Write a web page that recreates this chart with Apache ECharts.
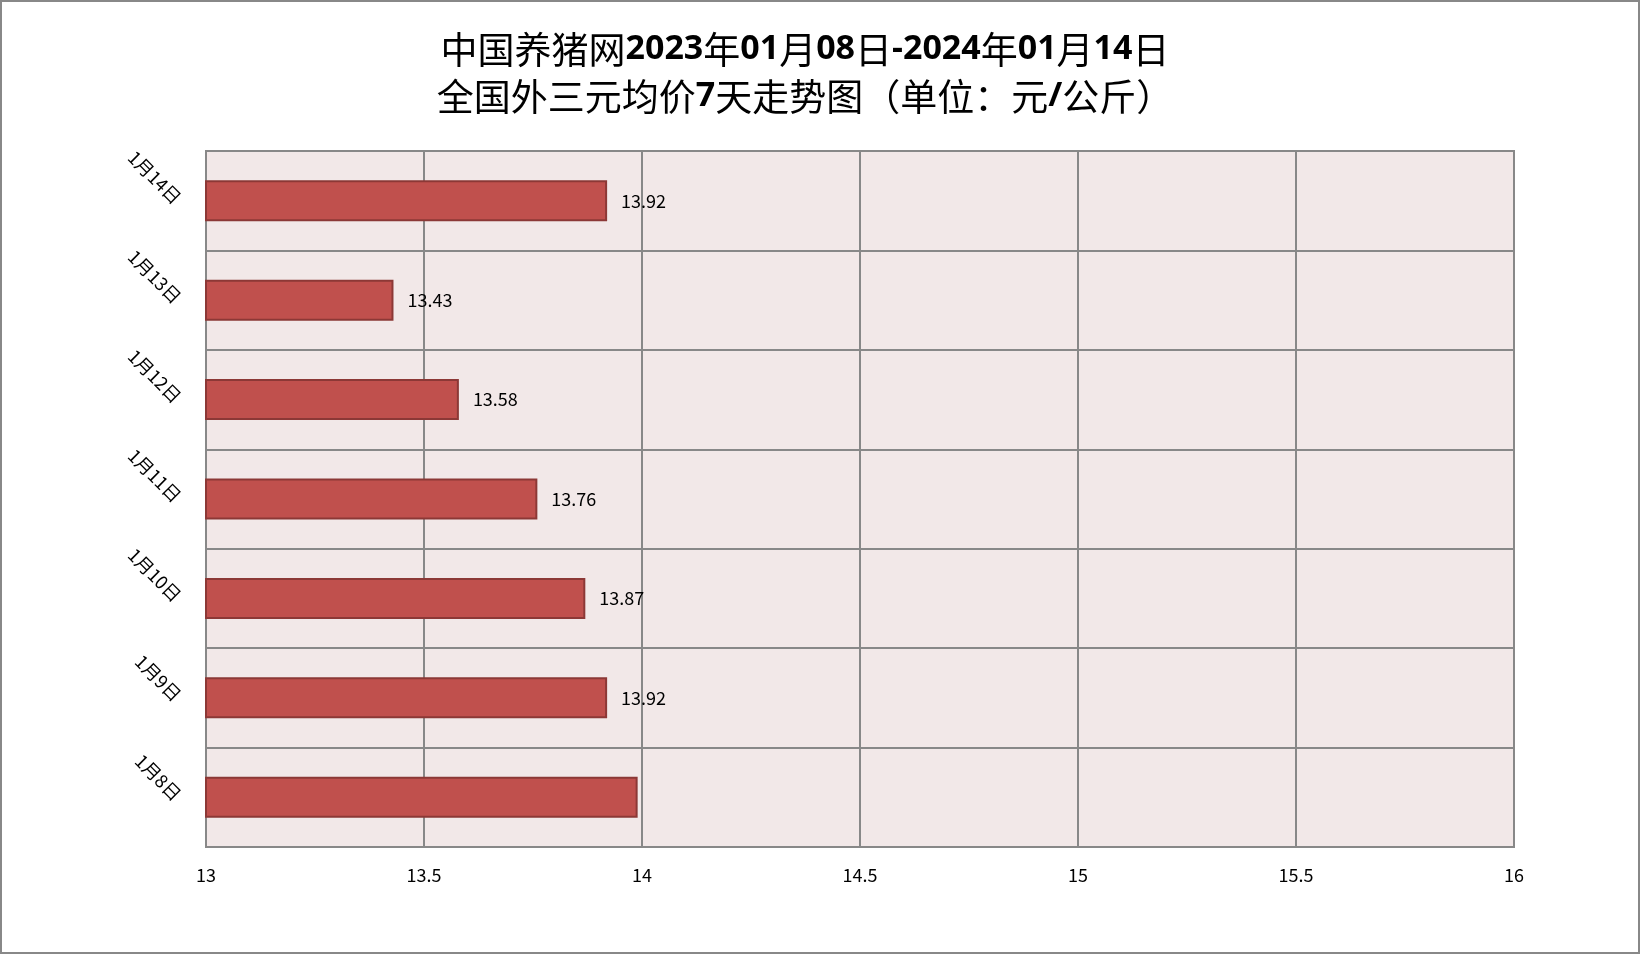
<!DOCTYPE html>
<html><head><meta charset="utf-8">
<script src="https://cdn.jsdelivr.net/npm/echarts@6/dist/echarts.min.js"></script>
<style>
html,body{margin:0;padding:0;background:#fff;}
#c{width:1640px;height:954px;box-sizing:border-box;border:2px solid #888;}
</style></head>
<body><div id="c"></div>
<script>
const categories = ['1月8日','1月9日','1月10日','1月11日','1月12日','1月13日','1月14日'];
const prices = [13.99, 13.92, 13.87, 13.76, 13.58, 13.43, 13.92];
const showLabel = [false, true, true, true, true, true, true];
const xTicks = [13, 13.5, 14, 14.5, 15, 15.5, 16];

const chart = echarts.init(document.getElementById('c'));
const cjk = '"Noto Sans CJK SC", sans-serif';
chart.setOption({
  backgroundColor: '#fff',
  title: {
    text: '{a|中国养猪网}{b|2023}{a|年}{b|01}{a|月}{b|08}{a|日}{b|-2024}{a|年}{b|01}{a|月}{b|14}{a|日}\n{a|全国外三元均价}{b|7}{a|天走势图（单位：元}{b|/}{a|公斤）}',
    left: 798, top: 19, textAlign: 'center',
    textStyle: {
      rich: {
        a: {fontFamily: cjk, fontSize: 37, color: '#000', lineHeight: 47, fontWeight: 'normal'},
        b: {fontFamily: '"Open Sans", sans-serif', fontSize: 34, color: '#000', lineHeight: 47, fontWeight: 'bold'}
      }
    }
  },
  grid: {left: 204, top: 149, right: 124, bottom: 105, show: true, backgroundColor: '#F2E8E8', borderColor: '#888', borderWidth: 2},
  xAxis: {
    type: 'value', min: 13, max: 16, interval: 0.5,
    axisLine: {show: false}, axisTick: {show: false},
    axisLabel: {color: '#000', fontSize: 18, fontFamily: cjk, margin: 19,
      formatter: v => xTicks.includes(v) ? String(v) : ''},
    splitLine: {show: true, lineStyle: {color: '#888', width: 2}}
  },
  yAxis: {
    type: 'category', data: categories,
    axisLine: {show: true, lineStyle: {color: '#888', width: 2}}, axisTick: {show: false},
    axisLabel: {color: '#000', fontSize: 18, fontFamily: cjk, rotate: -45, margin: 28},
    splitLine: {show: true, lineStyle: {color: '#888', width: 2}}
  },
  series: [{
    type: 'bar', barWidth: 41,
    data: prices.map((v, i) => ({value: v, label: {show: showLabel[i]}})),
    itemStyle: {color: '#C0504D', borderColor: '#8C3836', borderWidth: 2},
    label: {show: true, position: 'right', distance: 14, color: '#000', fontSize: 18, fontFamily: cjk},
    animation: false
  }],
  animation: false
});
</script></body></html>
